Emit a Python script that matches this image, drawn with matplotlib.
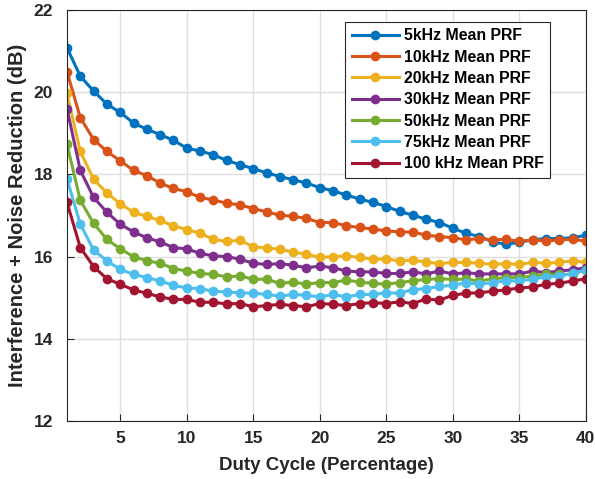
import numpy as np
import matplotlib
matplotlib.use("Agg")
import matplotlib.pyplot as plt

# ── data ─────────────────────────────────────────────────────────
duty = list(range(1, 41))

prf_5k = [21.08, 20.39, 20.03, 19.71, 19.51, 19.25, 19.10, 18.97, 18.83, 18.64,
          18.57, 18.48, 18.34, 18.24, 18.14, 18.04, 17.95, 17.87, 17.79, 17.68,
          17.60, 17.50, 17.40, 17.32, 17.22, 17.10, 17.01, 16.91, 16.83, 16.69,
          16.57, 16.49, 16.36, 16.30, 16.35, 16.41, 16.44, 16.44, 16.46, 16.52]
prf_10k = [20.50, 19.38, 18.85, 18.56, 18.33, 18.10, 17.97, 17.79, 17.66, 17.58,
           17.44, 17.38, 17.30, 17.26, 17.17, 17.09, 17.01, 16.98, 16.93, 16.83,
           16.83, 16.75, 16.71, 16.67, 16.63, 16.60, 16.60, 16.52, 16.49, 16.46,
           16.41, 16.44, 16.41, 16.42, 16.37, 16.41, 16.38, 16.41, 16.42, 16.38]
prf_20k = [19.97, 18.56, 17.88, 17.55, 17.29, 17.08, 16.98, 16.88, 16.75, 16.66,
           16.57, 16.42, 16.37, 16.40, 16.24, 16.21, 16.18, 16.11, 16.06, 15.98,
           16.00, 16.02, 15.98, 15.94, 15.94, 15.90, 15.91, 15.87, 15.83, 15.86,
           15.86, 15.84, 15.81, 15.83, 15.81, 15.86, 15.84, 15.86, 15.90, 15.86]
prf_30k = [19.60, 18.10, 17.44, 17.08, 16.79, 16.60, 16.46, 16.36, 16.22, 16.19,
           16.08, 16.02, 16.00, 15.94, 15.84, 15.81, 15.83, 15.79, 15.73, 15.77,
           15.73, 15.65, 15.63, 15.63, 15.59, 15.59, 15.63, 15.58, 15.65, 15.58,
           15.61, 15.58, 15.58, 15.58, 15.58, 15.65, 15.61, 15.65, 15.68, 15.73]
prf_50k = [18.73, 17.37, 16.81, 16.42, 16.19, 16.00, 15.90, 15.84, 15.71, 15.65,
           15.59, 15.57, 15.51, 15.53, 15.45, 15.45, 15.35, 15.38, 15.33, 15.37,
           15.37, 15.43, 15.38, 15.35, 15.33, 15.37, 15.41, 15.45, 15.46, 15.45,
           15.45, 15.41, 15.46, 15.49, 15.49, 15.53, 15.57, 15.57, 15.57, 15.68]
prf_75k = [17.89, 16.79, 16.16, 15.90, 15.69, 15.57, 15.49, 15.41, 15.30, 15.24,
           15.22, 15.16, 15.14, 15.12, 15.11, 15.08, 15.04, 15.08, 15.06, 15.02,
           15.08, 15.02, 15.08, 15.08, 15.12, 15.11, 15.20, 15.22, 15.28, 15.30,
           15.37, 15.33, 15.37, 15.41, 15.41, 15.45, 15.51, 15.53, 15.59, 15.68]
prf_100k = [17.32, 16.22, 15.76, 15.46, 15.33, 15.19, 15.11, 15.02, 14.96, 14.96,
            14.89, 14.89, 14.85, 14.86, 14.78, 14.81, 14.84, 14.81, 14.78, 14.86,
            14.84, 14.81, 14.86, 14.88, 14.86, 14.90, 14.86, 14.97, 14.94, 15.06,
            15.11, 15.12, 15.16, 15.19, 15.24, 15.26, 15.33, 15.35, 15.41, 15.46]

labels = ["5kHz Mean PRF", "10kHz Mean PRF", "20kHz Mean PRF", "30kHz Mean PRF",
          "50kHz Mean PRF", "75kHz Mean PRF", "100 kHz Mean PRF"]
series = [prf_5k, prf_10k, prf_20k, prf_30k, prf_50k, prf_75k, prf_100k]
colors = ["#0072BD", "#D95319", "#EDB120", "#7E2F8E", "#77AC30", "#4DBEEE", "#A2142F"]

plt.rcParams["font.family"] = ["Liberation Sans", "DejaVu Sans"]
plt.rcParams["font.weight"] = "bold"

fig = plt.figure(figsize=(5.95, 4.79), dpi=100)
ax = fig.add_axes([0.1126, 0.121, 0.872, 0.858])

for vals, lab, col in zip(series, labels, colors):
    ax.plot(duty, vals, "-o", color=col, label=lab, linewidth=2.2,
            markersize=7, markeredgewidth=0)

ax.set_xlim(1, 40)
ax.set_ylim(12, 22)
ax.set_xticks(range(5, 41, 5))
ax.set_yticks(range(12, 23, 2))
ax.grid(True, color="#dfdfdf", linewidth=1.0)
ax.set_axisbelow(True)
ax.tick_params(direction="in", labelsize=12.5, length=5, width=0.8, colors="#262626")
ax.tick_params(axis="y", pad=10)
ax.tick_params(axis="x", pad=7)
for lbl in ax.get_xticklabels() + ax.get_yticklabels():
    lbl.set_fontweight("bold")
for sp in ax.spines.values():
    sp.set_color("#262626")
    sp.set_linewidth(0.8)

ax.set_xlabel("Duty Cycle (Percentage)", fontsize=13.5, fontweight="bold",
              labelpad=8, color="#262626")
ax.set_ylabel("Interference + Noise Reduction (dB)", fontsize=14.5, fontweight="bold",
              labelpad=5, color="#262626")

leg = ax.legend(loc="upper right", bbox_to_anchor=(0.931, 0.971), borderaxespad=0,
                handlelength=3.0, labelspacing=0.4, borderpad=0.4,
                handletextpad=0.3, fancybox=False, framealpha=1.0,
                prop={"weight": "bold", "size": 11.4})
leg.get_frame().set_edgecolor("#262626")
leg.get_frame().set_linewidth(0.8)

fig.savefig("out.png", dpi=100)
